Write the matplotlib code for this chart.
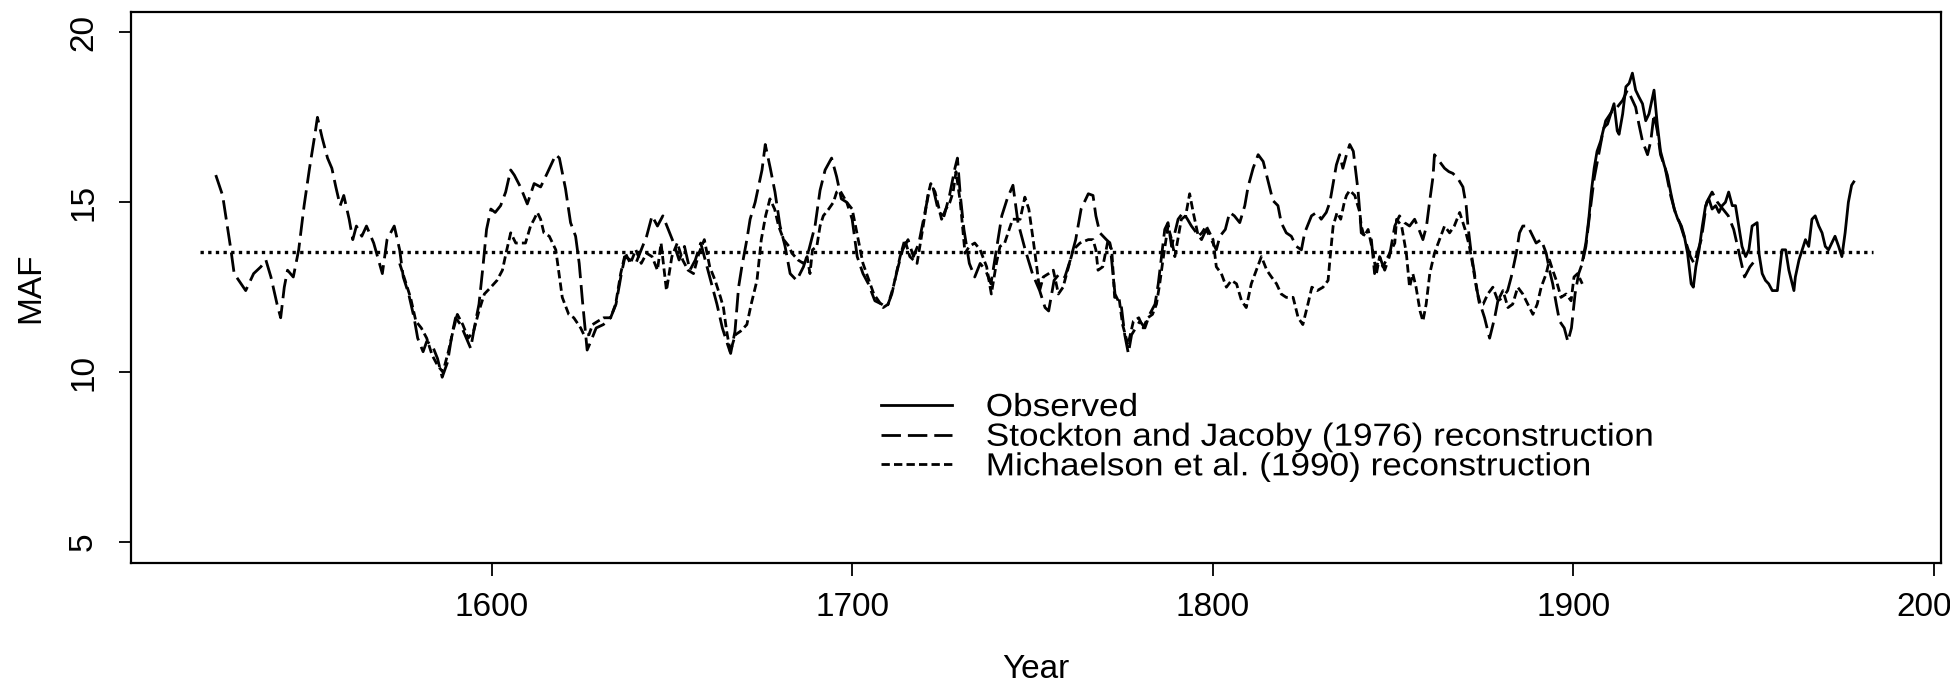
import numpy as np
import matplotlib.pyplot as plt
from matplotlib.patheffects import AbstractPathEffect
from matplotlib.transforms import Affine2D

plt.rcParams['font.family'] = ['Liberation Sans', 'DejaVu Sans']

# Observed flow at Lees Ferry (MAF)
obs_years = [1902.6, 1903.5, 1904.3, 1905.0, 1905.8, 1906.6, 1907.6, 1908.5, 1909.5, 1910.4,
             1911.3, 1912.2, 1912.7, 1913.7, 1914.6, 1915.5, 1916.4, 1917.3, 1918.2, 1919.2,
             1920.1, 1921.0, 1922.4, 1923.3, 1924.2, 1925.2, 1926.1, 1927.0, 1928.0, 1929.0,
             1930.0, 1930.8, 1931.7, 1932.7, 1933.3, 1934.0, 1934.9, 1935.8, 1936.7, 1937.6,
             1938.5, 1939.5, 1940.4, 1941.3, 1942.2, 1943.1, 1944.1, 1945.0, 1945.9, 1946.8,
             1947.8, 1948.7, 1949.6, 1951.0, 1951.5, 1952.4, 1953.3, 1954.2, 1955.2, 1956.6,
             1957.0, 1957.9, 1958.9, 1959.8, 1961.2, 1961.6, 1962.6, 1963.5, 1964.4, 1965.3,
             1966.2, 1967.1, 1968.1, 1969.0, 1969.9, 1970.8, 1971.7, 1972.6, 1973.6, 1974.5,
             1975.4, 1976.3, 1977.2, 1977.8]
obs_flow = [13.3, 13.8, 14.5, 15.3, 16.0, 16.5, 16.8, 17.2, 17.3, 17.6,
            17.9, 17.1, 17.0, 17.6, 18.4, 18.5, 18.8, 18.3, 18.1, 17.9,
            17.4, 17.6, 18.3, 17.3, 16.5, 16.1, 15.8, 15.3, 14.8, 14.5,
            14.3, 14.0, 13.5, 12.6, 12.5, 13.1, 13.6, 14.3, 14.9, 15.1,
            14.8, 14.9, 14.7, 14.9, 15.0, 15.3, 14.9, 14.9, 14.3, 13.7,
            13.4, 13.6, 14.3, 14.4, 13.5, 12.9, 12.7, 12.6, 12.4, 12.4,
            12.8, 13.6, 13.6, 13.0, 12.4, 12.8, 13.3, 13.6, 13.9, 13.7,
            14.5, 14.6, 14.3, 14.1, 13.7, 13.6, 13.8, 14.0, 13.7, 13.4,
            14.1, 15.0, 15.5, 15.6]

# Stockton and Jacoby (1976)
sj_years = [1523.5, 1525.4, 1527.7, 1528.6, 1530.5, 1531.8, 1534.0, 1536.0, 1537.4, 1538.8,
            1540.5, 1541.5, 1542.5, 1543.4, 1545.0, 1546.5, 1548.0, 1549.5, 1551.0, 1551.7,
            1553.0, 1554.5, 1555.7, 1556.8, 1558.0, 1559.0, 1560.5, 1561.5, 1562.5, 1564.0,
            1565.3, 1567.3, 1569.7, 1571.0, 1573.0, 1574.5, 1575.5, 1577.0, 1578.5, 1579.5,
            1581.0, 1582.0, 1583.5, 1585.0, 1586.3, 1587.8, 1589.0, 1590.0, 1591.4, 1593.0,
            1594.2, 1595.2, 1596.5, 1597.6, 1598.6, 1599.8, 1601.0, 1602.5, 1603.9, 1605.3,
            1606.3, 1608.0, 1609.9, 1611.8, 1613.6, 1615.4, 1617.8, 1618.8, 1620.5, 1621.9,
            1623.3, 1624.3, 1625.2, 1626.5, 1627.5, 1629.0, 1631.0, 1633.0, 1634.5, 1636.0,
            1637.0, 1638.5, 1640.0, 1641.5, 1643.0, 1644.5, 1646.0, 1647.5, 1649.0, 1650.5,
            1652.0, 1653.5, 1655.0, 1656.5, 1658.0, 1659.5, 1661.0, 1662.5, 1664.0, 1665.5,
            1666.3, 1667.5, 1668.5, 1669.4, 1670.8, 1671.7, 1673.1, 1674.0, 1675.0, 1675.9,
            1677.3, 1678.6, 1680.0, 1681.4, 1682.8, 1684.6, 1686.5, 1688.0, 1689.7, 1691.1,
            1692.5, 1694.3, 1695.7, 1697.0, 1698.5, 1700.0, 1701.4, 1703.0, 1704.5, 1706.3,
            1708.2, 1709.6, 1711.0, 1712.5, 1714.0, 1715.5, 1717.0, 1718.5, 1720.0, 1721.3,
            1722.5, 1724.0, 1725.5, 1727.0, 1728.5, 1729.2, 1730.0, 1731.0, 1732.5, 1734.0,
            1735.5, 1737.0, 1738.5, 1740.0, 1741.5, 1743.0, 1744.6, 1746.0, 1748.0, 1750.0,
            1752.0, 1753.5, 1754.5, 1756.0, 1757.5, 1759.0, 1760.5, 1762.0, 1763.5, 1765.5,
            1766.8, 1767.6, 1768.7, 1770.5, 1771.5, 1772.9, 1774.7, 1775.6, 1776.6, 1777.5,
            1779.8, 1781.2, 1782.5, 1784.0, 1784.9, 1785.8, 1786.7, 1787.6, 1788.6, 1790.4,
            1791.8, 1793.0, 1794.1, 1795.5, 1796.9, 1798.2, 1799.6, 1801.0, 1802.0, 1803.5,
            1804.7, 1806.0, 1807.5, 1808.9, 1809.8, 1811.2, 1812.6, 1814.0, 1815.3, 1816.7,
            1818.1, 1819.0, 1820.4, 1821.8, 1823.2, 1824.6, 1825.5, 1827.4, 1828.8, 1830.1,
            1831.5, 1832.5, 1833.4, 1834.3, 1835.2, 1836.1, 1837.1, 1838.0, 1839.0, 1839.8,
            1840.3, 1840.8, 1841.2, 1842.5, 1844.0, 1844.9, 1846.3, 1847.7, 1849.0, 1850.5,
            1851.8, 1853.2, 1854.6, 1856.0, 1857.2, 1858.3, 1859.3, 1860.2, 1861.1, 1861.5,
            1862.9, 1864.3, 1865.5, 1866.6, 1868.0, 1869.4, 1870.3, 1870.8, 1871.7, 1872.6,
            1873.5, 1874.5, 1875.4, 1876.8, 1878.2, 1879.1, 1880.5, 1881.8, 1882.8, 1884.2,
            1885.1, 1886.0, 1887.4, 1888.8, 1889.7, 1891.1, 1892.5, 1893.4, 1894.3, 1895.3,
            1896.2, 1897.5, 1898.5, 1899.5, 1900.5, 1901.5, 1902.5, 1903.5, 1904.5, 1905.8,
            1907.2, 1908.1, 1909.0, 1910.9, 1912.2, 1913.7, 1915.0, 1916.0, 1917.3, 1918.2,
            1919.2, 1920.6, 1921.5, 1922.4, 1923.3, 1924.2, 1925.5, 1927.0, 1928.3, 1929.5,
            1931.0, 1932.5, 1933.5, 1935.5, 1937.0, 1938.5, 1940.0, 1941.5, 1943.0, 1944.5,
            1946.0, 1947.5, 1949.0, 1950.5]
sj_flow = [15.8, 15.2, 13.6, 12.9, 12.6, 12.4, 12.9, 13.1, 13.3, 12.8,
           12.0, 11.6, 12.5, 13.0, 12.8, 13.6, 14.9, 16.0, 17.0, 17.5,
           16.9, 16.3, 16.0, 15.45, 14.9, 15.2, 14.5, 13.9, 14.3, 14.0,
           14.3, 13.8, 12.9, 13.9, 14.3, 13.6, 12.8, 12.3, 11.6, 11.0,
           10.6, 10.9, 10.8, 10.4, 9.85, 10.3, 11.1, 11.6, 11.4, 11.0,
           10.7, 11.3, 12.0, 13.1, 14.2, 14.8, 14.7, 14.9, 15.3, 15.95,
           15.8, 15.45, 14.95, 15.55, 15.45, 15.85, 16.4, 16.3, 15.4, 14.4,
           14.0, 13.2, 12.1, 10.65, 10.9, 11.3, 11.4, 11.6, 12.0, 12.9,
           13.4, 13.3, 13.2, 13.6, 14.0, 14.6, 14.3, 14.6, 14.2, 13.8,
           13.3, 13.7, 13.0, 13.3, 13.8, 13.2, 12.6, 12.0, 11.3, 10.8,
           10.55, 11.2, 12.5, 13.1, 13.9, 14.5, 15.0, 15.45, 15.95, 16.7,
           16.0, 15.3, 14.3, 13.7, 12.9, 12.7, 13.1, 13.6, 14.3, 15.35,
           15.95, 16.3, 15.75, 15.1, 15.0, 14.5, 13.4, 12.9, 12.6, 12.1,
           12.0, 11.9, 12.3, 13.0, 13.6, 13.9, 13.4, 13.8, 14.6, 15.3,
           15.4, 14.7, 14.6, 15.2, 16.0, 16.3, 15.2, 14.2, 13.2, 12.8,
           13.2, 13.0, 12.6, 13.6, 14.6, 15.1, 15.5, 14.4, 13.6, 12.9,
           12.4, 11.9, 11.8, 12.7, 12.9, 12.8, 13.3, 13.9, 14.8, 15.25,
           15.2, 14.6, 14.1, 13.9, 13.8, 12.3, 11.9, 11.1, 10.55, 11.1,
           11.5, 11.3, 11.7, 12.0, 12.6, 13.4, 14.2, 14.4, 13.7, 14.5,
           14.7, 14.5, 14.3, 14.1, 13.9, 14.2, 13.9, 13.6, 14.0, 14.2,
           14.7, 14.6, 14.4, 14.9, 15.45, 16.0, 16.4, 16.2, 15.65, 15.05,
           14.9, 14.4, 14.1, 14.0, 13.7, 13.6, 14.1, 14.6, 14.7, 14.5,
           14.7, 15.0, 15.55, 16.1, 16.4, 16.0, 16.4, 16.7, 16.5, 15.8,
           15.35, 14.7, 14.1, 14.0, 13.9, 12.9, 13.4, 13.0, 13.4, 14.3,
           14.6, 14.4, 14.3, 14.5, 14.2, 13.9, 14.3, 15.05, 15.75, 16.4,
           16.2, 16.0, 15.9, 15.85, 15.7, 15.45, 14.9, 14.3, 13.5, 12.9,
           12.3, 11.9, 11.6, 11.0, 11.6, 12.1, 12.2, 12.4, 12.8, 13.5,
           14.1, 14.3, 14.3, 14.0, 13.8, 13.9, 13.5, 13.0, 12.6, 12.0,
           11.5, 11.3, 10.9, 11.3, 12.3, 12.9, 13.2, 13.7, 14.6, 15.7,
           16.5, 17.0, 17.4, 17.7, 17.8, 18.0, 18.3, 18.1, 17.8, 17.3,
           16.8, 16.4, 16.8, 17.6, 17.1, 16.4, 16.0, 15.2, 14.7, 14.4,
           13.9, 13.4, 13.2, 13.9, 15.0, 15.3, 15.0, 14.8, 14.6, 14.2,
           13.5, 12.8, 13.1, 13.3]

# Michaelson et al. (1990)
mi_years = [1574.5, 1576.0, 1577.5, 1579.0, 1580.5, 1582.0, 1583.5, 1585.0, 1586.5, 1588.0,
            1589.5, 1590.5, 1592.0, 1593.5, 1595.0, 1596.5, 1598.0, 1599.8, 1601.5, 1603.0,
            1604.0, 1605.3, 1606.7, 1608.0, 1609.4, 1610.8, 1611.8, 1612.7, 1613.6, 1614.5,
            1616.0, 1617.8, 1618.7, 1619.6, 1621.4, 1622.8, 1624.7, 1625.6, 1627.0, 1628.0,
            1629.5, 1631.1, 1633.0, 1634.4, 1635.8, 1637.1, 1638.5, 1640.0, 1641.5, 1643.0,
            1644.5, 1646.0, 1647.0, 1648.5, 1650.0, 1651.5, 1653.0, 1654.5, 1656.0, 1657.5,
            1659.0, 1660.5, 1662.0, 1663.5, 1664.3, 1665.2, 1666.2, 1667.6, 1669.0, 1670.8,
            1672.0, 1673.6, 1674.8, 1676.0, 1677.2, 1678.5, 1679.6, 1681.0, 1682.5, 1683.3,
            1685.0, 1686.5, 1687.5, 1688.3, 1689.0, 1690.2, 1691.1, 1692.0, 1693.5, 1694.8,
            1695.7, 1696.6, 1698.5, 1700.0, 1701.7, 1703.0, 1704.0, 1706.0, 1708.6, 1710.0,
            1711.4, 1713.3, 1714.6, 1716.0, 1718.0, 1719.7, 1721.0, 1721.8, 1723.0, 1724.8,
            1726.0, 1727.1, 1728.0, 1728.8, 1730.0, 1731.3, 1732.5, 1734.0, 1735.5, 1737.3,
            1738.6, 1740.0, 1741.0, 1742.3, 1744.5, 1746.6, 1747.9, 1749.0, 1750.2, 1751.2,
            1752.0, 1753.0, 1754.5, 1755.8, 1757.2, 1758.5, 1759.5, 1761.3, 1763.2, 1765.5,
            1766.8, 1767.6, 1768.2, 1769.5, 1771.0, 1772.0, 1772.8, 1774.0, 1775.0, 1776.5,
            1778.0, 1779.5, 1780.7, 1782.0, 1783.3, 1784.4, 1785.3, 1786.2, 1787.6, 1788.6,
            1789.5, 1791.3, 1792.5, 1793.6, 1794.6, 1796.0, 1797.0, 1798.2, 1800.1, 1801.0,
            1802.4, 1803.8, 1805.2, 1806.6, 1808.0, 1809.3, 1810.7, 1812.1, 1813.5, 1815.0,
            1816.3, 1817.7, 1819.0, 1820.4, 1822.3, 1823.7, 1825.0, 1826.4, 1827.5, 1829.0,
            1830.6, 1832.0, 1832.5, 1833.4, 1834.5, 1835.5, 1836.5, 1837.1, 1838.0, 1839.4,
            1840.8, 1841.2, 1842.0, 1843.1, 1844.5, 1845.4, 1846.3, 1847.2, 1849.1, 1850.5,
            1851.0, 1852.4, 1853.7, 1854.6, 1855.5, 1856.4, 1857.5, 1858.3, 1859.2, 1860.2,
            1861.5, 1862.9, 1864.3, 1865.7, 1867.0, 1868.5, 1870.0, 1871.2, 1872.2, 1873.1,
            1874.0, 1875.0, 1876.3, 1877.7, 1879.1, 1880.5, 1881.9, 1883.2, 1884.6, 1886.0,
            1887.4, 1888.8, 1890.0, 1891.1, 1892.5, 1893.4, 1894.3, 1895.3, 1896.6, 1898.0,
            1899.4, 1900.2, 1901.2, 1902.5]
mi_flow = [13.2, 12.7, 12.2, 11.5, 11.3, 11.0, 10.5, 10.2, 10.0, 10.6,
           11.3, 11.7, 11.4, 11.0, 11.2, 11.8, 12.3, 12.5, 12.7, 13.0,
           13.5, 14.1, 13.8, 13.8, 13.8, 14.3, 14.5, 14.7, 14.5, 14.1,
           14.0, 13.6, 12.9, 12.2, 11.7, 11.6, 11.3, 11.1, 11.1, 11.4,
           11.5, 11.6, 11.6, 12.0, 12.9, 13.5, 13.2, 13.6, 13.2, 13.5,
           13.4, 13.0, 13.8, 12.4, 13.4, 13.8, 13.3, 13.0, 12.9, 13.5,
           13.9, 13.1, 12.7, 12.2, 11.9, 11.2, 10.6, 11.1, 11.2, 11.4,
           12.0, 12.7, 13.9, 14.6, 15.1, 14.8, 14.3, 13.9, 13.7, 13.5,
           13.3, 13.2, 13.4, 12.9, 13.6, 13.7, 14.3, 14.6, 14.8, 15.0,
           15.3, 15.35, 15.0, 14.8, 13.9, 13.2, 12.9, 12.3, 11.9, 12.0,
           12.5, 13.4, 13.9, 13.4, 13.2, 14.3, 15.2, 15.55, 15.3, 14.5,
           14.8, 15.0, 15.3, 15.9, 15.0, 13.5, 13.7, 13.8, 13.6, 13.1,
           12.3, 13.2, 13.7, 13.8, 14.5, 14.5, 15.15, 14.8, 13.9, 13.1,
           12.4, 12.8, 12.9, 13.0, 12.3, 12.5, 12.9, 13.6, 13.8, 13.9,
           13.9, 13.6, 13.0, 13.1, 13.9, 13.6, 12.2, 12.2, 11.4, 10.8,
           11.5, 11.6, 11.3, 11.6, 11.7, 12.0, 12.6, 13.3, 14.3, 13.9,
           13.4, 14.5, 14.6, 15.25, 14.7, 14.0, 14.1, 14.3, 13.9, 13.1,
           12.9, 12.5, 12.7, 12.6, 12.1, 11.9, 12.6, 13.0, 13.4, 13.0,
           12.8, 12.6, 12.3, 12.2, 12.2, 11.6, 11.4, 12.0, 12.5, 12.4,
           12.5, 12.7, 13.3, 14.3, 14.7, 14.5, 15.0, 15.2, 15.35, 15.2,
           14.7, 14.3, 14.0, 14.2, 13.5, 12.9, 13.4, 13.1, 13.5, 13.8,
           14.5, 14.3, 13.5, 12.5, 12.9, 12.5, 11.8, 11.5, 12.0, 12.9,
           13.5, 13.9, 14.3, 14.1, 14.3, 14.7, 14.2, 13.7, 13.1, 12.5,
           12.0, 12.0, 12.3, 12.5, 12.1, 12.4, 11.9, 12.0, 12.5, 12.3,
           12.0, 11.7, 12.0, 12.5, 12.9, 13.3, 13.0, 12.7, 12.2, 12.3,
           12.1, 12.8, 12.9, 12.6]

# long-term mean, drawn as a dotted reference line
mean_flow = 13.55
mean_span = [1519, 1983]

series_labels = ['Observed', 'Stockton and Jacoby (1976) reconstruction',
                 'Michaelson et al. (1990) reconstruction']


class WideText(AbstractPathEffect):
    """Stretch glyphs horizontally about the text origin."""

    def __init__(self, sx):
        super().__init__()
        self.sx = sx

    def draw_path(self, renderer, gc, tpath, affine, rgbFace=None):
        renderer.draw_path(gc, tpath, Affine2D().scale(self.sx, 1.0) + affine, rgbFace)


fig = plt.figure(figsize=(19.5, 6.85), dpi=100)
ax = fig.add_axes([0.0672, 0.178, 0.9282, 0.8045])

l_obs, = ax.plot(obs_years, obs_flow, color='black', lw=2.0, ls='-')
l_sj, = ax.plot(sj_years, sj_flow, color='black', lw=2.0, dashes=(7, 2.5))
l_mi, = ax.plot(mi_years, mi_flow, color='black', lw=2.0, dashes=(3, 1.5))
ax.plot(mean_span, [mean_flow, mean_flow], color='black', lw=2.4, dashes=(1, 1.3))

ax.set_xlim(1500, 2002)
ax.set_ylim(4.38, 20.6)
ax.set_xticks([1600, 1700, 1800, 1900, 2000])
ax.set_yticks([5, 10, 15, 20])
ax.set_yticklabels(['5', '10', '15', '20'], rotation=90, va='center')
ax.tick_params(labelsize=24, length=9, width=1.3, pad=6)
ax.tick_params(axis='x', pad=12)
ax.tick_params(axis='y', pad=14)
for s in ax.spines.values():
    s.set_linewidth(1.6)

ax.set_xlabel('Year', fontsize=24, labelpad=22)
ax.set_ylabel('MAF', fontsize=24, labelpad=16)

leg = ax.legend([l_obs, l_sj, l_mi], series_labels,
                loc='upper left', bbox_to_anchor=(881 / 1950, 1 - 393 / 685),
                bbox_transform=fig.transFigure, frameon=False, fontsize=23,
                handlelength=2.23, handletextpad=1.05, labelspacing=-0.01,
                borderpad=0, borderaxespad=0)
for t in leg.get_texts():
    t.set_path_effects([WideText(1.1)])

fig.savefig('out.png', dpi=100)
